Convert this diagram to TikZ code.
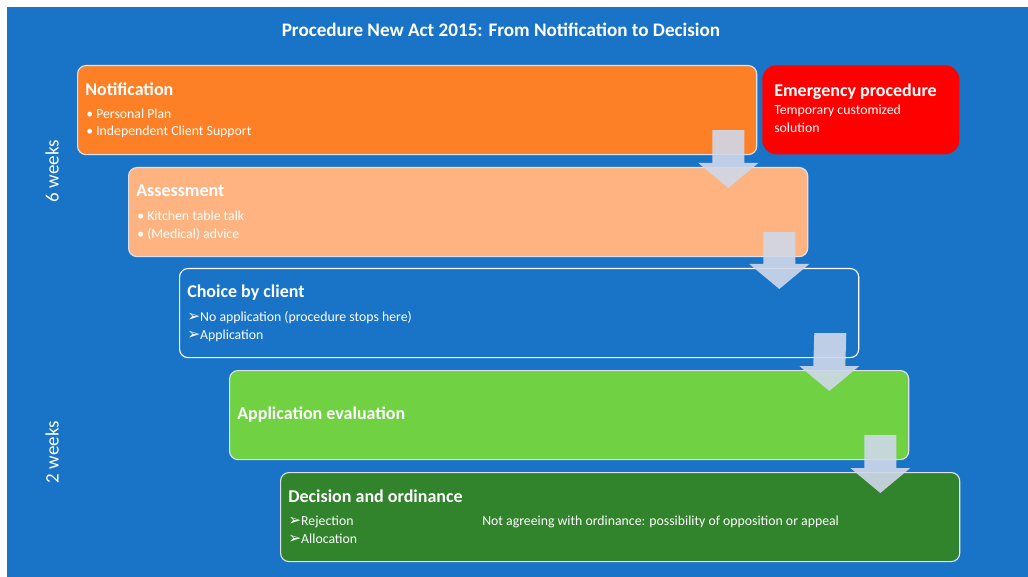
\documentclass[tikz,border=0pt]{standalone}
\usepackage{fontspec}
\setmainfont{Carlito}
\newfontfamily\dingfont{DejaVu Sans}
\usetikzlibrary{positioning, calc}

\definecolor{slideblue}{RGB}{25,116,200}
\definecolor{notifyorange}{RGB}{253,128,38}
\definecolor{assesspeach}{RGB}{255,179,128}
\definecolor{evalgreen}{RGB}{112,209,67}
\definecolor{decidegreen}{RGB}{49,131,44}
\definecolor{edgegray}{RGB}{218,226,240}
\definecolor{arrowgray}{RGB}{208,216,234}

\tikzset{
  stage/.style={draw=edgegray, line width=0.8pt, rounded corners=6pt, anchor=north west,
    minimum width=16.975cm, minimum height=2.225cm, inner sep=0pt},
  stagetitle/.style={anchor=west, text=white, inner sep=0pt,
    font=\fontsize{12.8}{15}\selectfont\bfseries},
  stageitem/.style={anchor=west, text=white, inner sep=0pt,
    font=\fontsize{9.8}{11}\selectfont},
  weeks/.style={rotate=90, text=white, inner sep=0pt, font=\fontsize{13.5}{15}\selectfont},
  flow/.style={fill=arrowgray, fill opacity=0.9},
}

% 3D arrowhead in front of the choice items
\newcommand{\itemarrow}{{\dingfont\fontsize{11}{11}\selectfont ➢}}

% block arrow from the bottom right of one stage into the next one
\newcommand{\stepdown}[2]{%
  \coordinate (#1-top) at ($(#1.south east)+(-29,-25)$);
  \coordinate (#1-tip) at ($(#2.north east)+(-80,21)$);
  \fill[flow] ($(#1-top)+(-16,0)$) -- ($(#1-top)+(16,0)$) -- ($(#1-tip)+(16,-25)$)
    -- ($(#1-tip)+(30,-25)$) -- (#1-tip) -- ($(#1-tip)+(-30,-25)$)
    -- ($(#1-tip)+(-16,-25)$) -- cycle;}

\begin{document}
\begin{tikzpicture}[x=0.025cm, y=-0.025cm]
  \useasboundingbox (0,0) rectangle (1028,577);
  \fill[slideblue] (7,7) rectangle (1028,577);

  \node[text=white, font=\fontsize{13.6}{16}\selectfont\bfseries] (heading) at (501,30)
    {Procedure New Act 2015: From Notification to Decision};

  % stages
  \node[stage, fill=notifyorange] (notif) at (77,65) {};
  \node[stage, fill=assesspeach] (assess) at (128,167) {};
  \node[stage, fill=slideblue, draw=white] (choice) at (179,268) {};
  \node[stage, fill=evalgreen] (eval) at (229,370) {};
  \node[stage, fill=decidegreen] (decide) at (280,472) {};
  \node[anchor=north west, fill=red, rounded corners=10pt, inner sep=0pt,
    minimum width=4.925cm, minimum height=2.225cm] (urgent) at (762,65) {};

  % Notification
  \node[stagetitle] (notif-t) at (85,89) {Notification};
  \node[stageitem] (notif-a) at (86,114) {• Personal Plan};
  \node[stageitem] (notif-b) at (86,132) {• Independent Client Support};

  % Emergency procedure
  \node[stagetitle] (urgent-t) at (774,92) {Emergency procedure};
  \node[stageitem] (urgent-a) at (774,111) {Temporary customized};
  \node[stageitem] (urgent-b) at (774,128) {solution};

  % Assessment
  \node[stagetitle] (assess-t) at (136,191) {Assessment};
  \node[stageitem] (assess-a) at (137,216) {• Kitchen table talk};
  \node[stageitem] (assess-b) at (137,234) {• (Medical) advice};

  % Choice by client
  \node[stagetitle] (choice-t) at (187,293) {Choice by client};
  \node[stageitem] (choice-a) at (187,318) {\itemarrow No application (procedure stops here)};
  \node[stageitem] (choice-b) at (187,336) {\itemarrow Application};

  % Application evaluation
  \node[stagetitle] (eval-t) at (237,415) {Application evaluation};

  % Decision and ordinance
  \node[stagetitle] (decide-t) at (288,496) {Decision and ordinance};
  \node[stageitem] (decide-a) at (288,522) {\itemarrow Rejection};
  \node[stageitem] (decide-b) at (288,539) {\itemarrow Allocation};
  \node[stageitem] (decide-c) at (482,522)
    {Not agreeing with ordinance: possibility of opposition or appeal};

  % durations
  \node[weeks] (six) at (52,171) {6 weeks};
  \node[weeks] (two) at (52,452) {2 weeks};

  % arrows between the stages
  \stepdown{notif}{assess}
  \stepdown{assess}{choice}
  \stepdown{choice}{eval}
  \stepdown{eval}{decide}
\end{tikzpicture}
\end{document}
